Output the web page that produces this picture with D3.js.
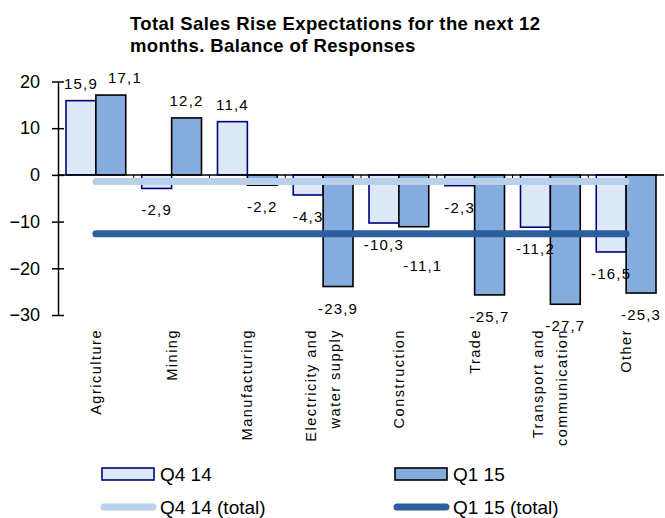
<!DOCTYPE html>
<html>
<head>
<meta charset="utf-8">
<script src="https://cdn.jsdelivr.net/npm/d3@7"></script>
<style>
  body { margin: 0; background: #fff; }
  svg { font-family: "Liberation Sans", Arial, sans-serif; }
</style>
</head>
<body>
<script>
// data ----------------------------------------------------
var categories = [
  ['Agriculture'],
  ['Mining'],
  ['Manufacturing'],
  ['Electricity and', 'water supply'],
  ['Construction'],
  ['Trade'],
  ['Transport and', 'communication'],
  ['Other']
];
var seriesNames = ['Q4 14', 'Q1 15'];
var q4_14 = [15.9, -2.9, 11.4, -4.3, -10.3, -2.3, -11.2, -16.5];
var q1_15 = [17.1, 12.2, -2.2, -23.9, -11.1, -25.7, -27.7, -25.3];
var totals = [-1.4, -12.6];  // Q4 14 (total), Q1 15 (total)
var yTicks = [20, 10, 0, -10, -20, -30];
var title = ['Total Sales Rise Expectations for the next 12', 'months. Balance of Responses'];

var W = 665, H = 518;
var fills = ['#dde8f6', '#84acdc'];
var strokes = ['#000080', '#000000'];
var lineColors = ['#b8d0ea', '#2b5e9c'];

var svg = d3.select('body').append('svg')
  .attr('width', W)
  .attr('height', H);

// title
svg.append('text')
  .attr('x', 130)
  .attr('y', 30)
  .style('font-weight', 'bold')
  .style('font-size', '18.5px')
  .style('letter-spacing', '0.4px')
  .selectAll('tspan')
  .data(title)
  .enter()
  .append('tspan')
  .attr('x', 130)
  .attr('dy', function(d, i) { return i ? 22 : 0; })
  .text(function(d) { return d; });

// scales
var keys = categories.map(function(d, i) { return i; });
var x0 = d3.scaleBand().domain(keys).range([58, 664]);
var x1 = d3.scaleBand().domain([0, 1]).range([8, x0.bandwidth() - 8]);
var y = d3.scaleLinear().domain([-30, 20]).range([315, 81.5]);

var rows = keys.map(function(i) { return [q4_14[i], q1_15[i]]; });

// bars
var groups = svg.selectAll('g.cat')
  .data(rows)
  .enter()
  .append('g')
  .attr('class', 'cat')
  .attr('transform', function(d, i) { return 'translate(' + x0(i) + ',0)'; });

groups.selectAll('rect')
  .data(function(d) { return d; })
  .enter()
  .append('rect')
  .attr('x', function(d, j) { return x1(j); })
  .attr('width', x1.bandwidth())
  .attr('y', function(d) { return y(Math.max(0, d)); })
  .attr('height', function(d) { return Math.abs(y(d) - y(0)); })
  .attr('fill', function(d, j) { return fills[j]; })
  .attr('stroke', function(d, j) { return strokes[j]; })
  .attr('stroke-width', 1.6);

// x axis line at zero with ticks at category boundaries
svg.append('line')
  .attr('x1', 58).attr('x2', 664)
  .attr('y1', y(0)).attr('y2', y(0))
  .attr('stroke', '#000').attr('stroke-width', 1.5);

svg.selectAll('line.xt')
  .data(keys.slice(1))
  .enter()
  .append('line')
  .attr('class', 'xt')
  .attr('x1', function(d) { return x0(d); })
  .attr('x2', function(d) { return x0(d); })
  .attr('y1', y(0)).attr('y2', y(0) + 4)
  .attr('stroke', '#000');

// total lines
svg.selectAll('line.total')
  .data(totals)
  .enter()
  .append('line')
  .attr('class', 'total')
  .attr('x1', x0(0) + x0.bandwidth() / 2)
  .attr('x2', x0(keys.length - 1) + x0.bandwidth() / 2)
  .attr('y1', function(d) { return y(d); })
  .attr('y2', function(d) { return y(d); })
  .attr('stroke', function(d, i) { return lineColors[i]; })
  .attr('stroke-width', 7)
  .attr('stroke-linecap', 'round');

// y axis
var yAxis = svg.append('g')
  .attr('transform', 'translate(58,0)')
  .call(d3.axisLeft(y).tickValues(yTicks).tickSizeInner(6).tickSizeOuter(0).tickPadding(12));
yAxis.select('.domain').attr('stroke', '#000').attr('stroke-width', 1.5);
yAxis.selectAll('.tick line').attr('x1', 6).attr('x2', -6).attr('stroke-width', 1.5);
yAxis.selectAll('.tick text')
  .style('font-size', '18px')
  .style('font-family', '"Liberation Sans", Arial, sans-serif')
  .attr('fill', '#000');

// value labels; the second label of a pair is moved when the two would collide
var fmt = function(v) { return String(v).replace('.', ','); };
var labelW = function(v) { return fmt(v).length * 10; };

groups.each(function(d) {
  var g = d3.select(this);
  var pos = d.map(function(v, j) {
    return {
      v: v,
      x: x1(j) + x1.bandwidth() / 2,
      cy: v >= 0 ? y(v) - 17 : y(v) + 22
    };
  });
  var a = pos[0], b = pos[1];
  var w = (labelW(a.v) + labelW(b.v)) / 2 + 4;
  if (Math.abs(a.cy - b.cy) < 16 && Math.abs(a.x - b.x) < w) {
    if (b.v >= 0) {
      b.x = a.x + w;
    } else {
      b.cy = a.cy + 21;
      b.x += 9;
    }
  }
  g.selectAll('text.val')
    .data(pos)
    .enter()
    .append('text')
    .attr('class', 'val')
    .attr('x', function(p) { return p.x; })
    .attr('y', function(p) { return p.cy + 5; })
    .attr('text-anchor', 'middle')
    .style('font-size', '15px')
    .style('letter-spacing', '1.2px')
    .text(function(p) { return fmt(p.v); });
});

// category labels, rotated
var cl = svg.selectAll('g.clab')
  .data(categories)
  .enter()
  .append('g')
  .attr('class', 'clab')
  .attr('transform', function(d, i) {
    return 'translate(' + (x0(i) + x0.bandwidth() / 2) + ',329) rotate(-90)';
  });

cl.selectAll('text')
  .data(function(d) { return d; })
  .enter()
  .append('text')
  .attr('text-anchor', 'end')
  .attr('y', function(d, j, all) { return (j - (all.length - 1) / 2) * 24; })
  .attr('dy', '0.35em')
  .style('font-size', '14.5px')
  .style('letter-spacing', '1.5px')
  .text(function(d) { return d; });

// legend
var legendItems = [
  { kind: 'bar', i: 0, label: seriesNames[0], x: 102, y: 474 },
  { kind: 'bar', i: 1, label: seriesNames[1], x: 395, y: 474 },
  { kind: 'line', i: 0, label: seriesNames[0] + ' (total)', x: 102, y: 507 },
  { kind: 'line', i: 1, label: seriesNames[1] + ' (total)', x: 395, y: 507 }
];
var lg = svg.selectAll('g.leg')
  .data(legendItems)
  .enter()
  .append('g')
  .attr('class', 'leg')
  .attr('transform', function(d) { return 'translate(' + d.x + ',' + d.y + ')'; });

lg.each(function(d) {
  var g = d3.select(this);
  if (d.kind === 'bar') {
    g.append('rect')
      .attr('x', 0).attr('y', -6)
      .attr('width', 52).attr('height', 12)
      .attr('fill', fills[d.i])
      .attr('stroke', strokes[d.i])
      .attr('stroke-width', 1.6);
  } else {
    g.append('line')
      .attr('x1', 2).attr('x2', 51)
      .attr('y1', 0).attr('y2', 0)
      .attr('stroke', lineColors[d.i])
      .attr('stroke-width', 7)
      .attr('stroke-linecap', 'round');
  }
  g.append('text')
    .attr('x', 58)
    .attr('dy', '0.36em')
    .style('font-size', '19px')
    .text(d.label);
});
</script>
</body>
</html>
